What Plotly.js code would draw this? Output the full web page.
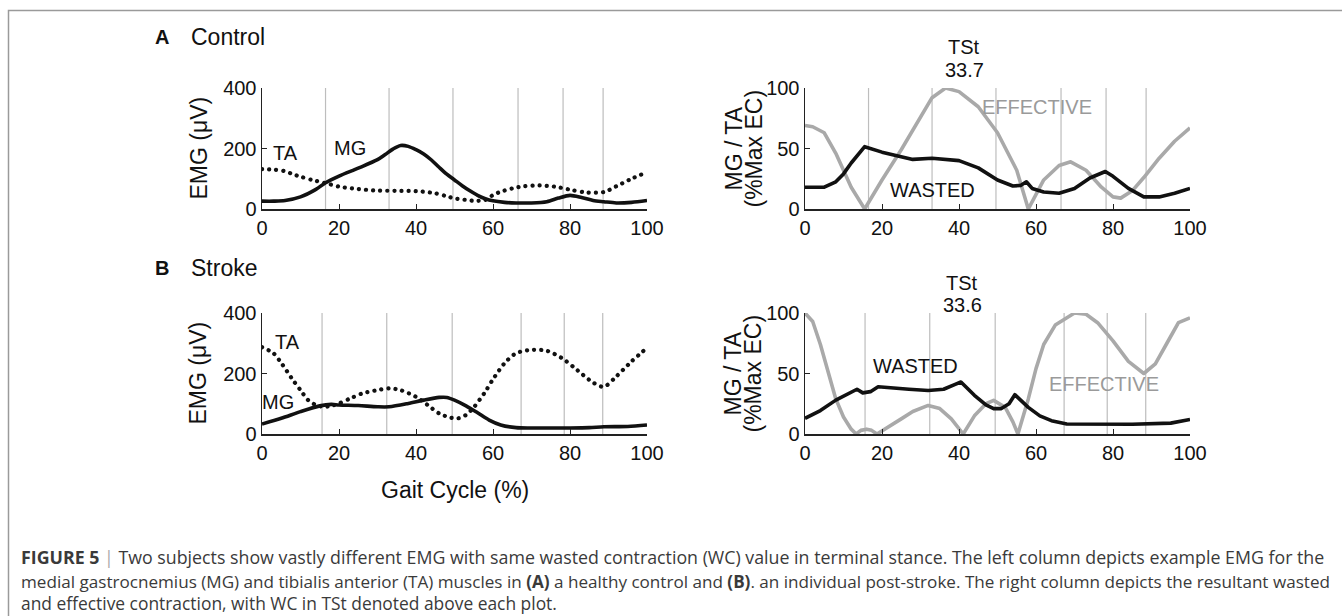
<!DOCTYPE html>
<html>
<head>
<meta charset="utf-8">
<script src="https://cdn.plot.ly/plotly-3.0.1.min.js"></script>
<style>html,body{margin:0;padding:0;background:#fff;} #chart{width:1342px;height:616px;}</style>
</head>
<body>
<div id="chart"></div>
<script>
// ---------- DATA ----------
// Gait phase boundaries (% gait cycle)
const phasesControl = [16.5, 33.0, 49.6, 66.5, 78.2, 88.6];
const phasesStroke  = [15.6, 32.4, 49.4, 67.3, 78.5, 88.5];

// Control: EMG (uV)
const ctrlMgX = [0,3,6,10,14,16.4,20,25,30,32,34,36,38,40,42,44,46,48,50,52,54,56,58,60,63,66,70,74,77,80,83,86,88.8,92,96,100];
const ctrlMg  = [26,26,28,40,65,86,109,135,163,180,198,210,207,196,182,162,138,115,96,77,60,45,34,27,22,20,20,24,36,45,38,28,24,20,22,28];
const ctrlTaX = [0,3,6,8,10,13,16.4,20,25,30,35,40,45,48,50,53,55,58,60,62,65,68,72,76,80,84,88.8,92,96,100];
const ctrlTa  = [132,130,125,115,107,96,86,74,66,61,60,59,52,42,35,30,27,30,46,57,68,75,78,74,64,55,56,75,100,122];

// Control: contraction (%Max EC)
const ctrlEffX = [0,2,5,8,10,12,15.5,20,25,30,33,36.5,40,45,50,55,58,62,66,69,73,77,80,82,85,88,92,96,100];
const ctrlEff  = [69,68,63,46,32,18,0,24,49,76,92,100,97,84.5,63,32,0,24,36,39,32,18,10,9,15,26,42,56,67];
const ctrlWasX = [0,5,8,10,12,15.5,20,25,28,33,38,40,45,50,54,56,57.5,59,62,66,70,74,78,80,84,88,92,96,100];
const ctrlWas  = [18,18,22.5,29,38,51.5,47,43,41,42,40.5,40,34,24,19,19.5,22.5,17,14,13,17,25.6,31,27,17,10,10,13,17];

// Stroke: EMG (uV)
const strMgX = [0,5,10,15,18,20,25,30,33,38,42,46,48,50,53,56,59,62,66,70,75,80,85,88.8,95,100];
const strMg  = [33,52,74,93,98,96,94,90,90,101,112,121,121,112,93,70,46,30,21,20,20,20,21,24,25,30];
const strTaX = [0,3,5,8,10,12,14,16,18,20,23,26,30,33,36,40,43,46,49,51,53,55,58,60,63,66,70,74,78,82,86,88.8,92,96,100];
const strTa  = [287,267,235,179,145,112,96,90,93,101,118,134,145,151,145,123,96,68,54,52,63,88,140,181,234,267,278,275,250,210,170,156,190,240,285];

// Stroke: contraction (%Max EC)
const strEffX = [0,2,4,6,8,10,12,13.3,14.5,16,17.3,18.7,22,25,28,32,35,38,41.1,44,47,49,52,54,55.3,58,60,62,65,68,70,73,76,80,84,88,91,94,97,100];
const strEff  = [100,93,74,51,29,14,4,0,3,4,3,0,7,12.5,18.6,23.6,21,12.5,0,15,25,27.8,22,10,0,29,54,74,90,96,100,99,92,77,60,50,58,75,92,96];
const strWasX = [0,4,8,12,13.5,15,17,19,22,27,32,36,39,40.5,44,47,49,51,53,54.5,56,58,61,64,68,75,85,95,100];
const strWas  = [13,19.4,28,35,37,34,35,39,38,37,36,37,41,43,32,24,21,21,25,32.5,28,22,15,11,8.3,8,8,9,12];

// WC in terminal stance
const wcControl = "33.7";
const wcStroke  = "33.6";

const xTicks = [0,20,40,60,80,100];
const emgTicks = [0,200,400];
const ecTicks = [0,50,100];

// ---------- LAYOUT HELPERS ----------
const W = 1342, H = 616;
const px = v => v / W;
const py = v => 1 - v / H;
const FONT = "Liberation Sans, Arial, Helvetica, sans-serif";
const CAPFONT = "Open Sans, Liberation Sans, Arial, sans-serif";
const BLACK = "#111";
const GRAY = "#a9a9a9";

const traces = [];
function line(x, y, xa, ya, color, dash, shape) {
  traces.push({x: x, y: y, xaxis: xa, yaxis: ya, type: 'scatter', mode: 'lines',
    line: {color: color, width: dash ? 4.2 : 3.6, dash: dash || 'solid', shape: shape || 'linear', smoothing: 0.8},
    hoverinfo: 'skip', showlegend: false});
}
line(ctrlTaX, ctrlTa, 'x', 'y', BLACK, '0.1px,7px', 'spline');
line(ctrlMgX, ctrlMg, 'x', 'y', BLACK, null, 'spline');
line(ctrlEffX, ctrlEff, 'x2', 'y2', GRAY);
line(ctrlWasX, ctrlWas, 'x2', 'y2', BLACK);
line(strTaX, strTa, 'x3', 'y3', BLACK, '0.1px,7px', 'spline');
line(strMgX, strMg, 'x3', 'y3', BLACK, null, 'spline');
line(strEffX, strEff, 'x4', 'y4', GRAY);
line(strWasX, strWas, 'x4', 'y4', BLACK);

function xAxis(left, right, anchor) {
  return {domain: [px(left), px(right)], anchor: anchor, range: [0, 100], showgrid: false, zeroline: false,
    showline: true, linecolor: '#222', linewidth: 1.5, ticks: 'inside', ticklen: 5, tickcolor: '#222',
    tickvals: xTicks, ticktext: xTicks.map(String), tickfont: {family: FONT, size: 20, color: BLACK}, fixedrange: true};
}
function yAxis(top, bottom, anchor, maxv, tv) {
  return {domain: [py(bottom), py(top)], anchor: anchor, range: [0, maxv], showgrid: false, zeroline: false,
    showline: true, linecolor: '#222', linewidth: 1.5, ticks: 'inside', ticklen: 5, tickcolor: '#222',
    tickvals: tv, ticktext: tv.map(String), tickfont: {family: FONT, size: 20, color: BLACK}, fixedrange: true};
}

const shapes = [];
function phaseLines(phases, xa, ya, maxv) {
  phases.forEach(p => shapes.push({type: 'line', xref: xa, yref: ya, x0: p, x1: p, y0: 0, y1: maxv,
    line: {color: '#bdbdbd', width: 1.2}, layer: 'below'}));
}
phaseLines(phasesControl, 'x', 'y', 400);
phaseLines(phasesControl, 'x2', 'y2', 100);
phaseLines(phasesStroke, 'x3', 'y3', 400);
phaseLines(phasesStroke, 'x4', 'y4', 100);
// figure frame (top + left)
shapes.push({type: 'path', xref: 'paper', yref: 'paper',
  path: `M ${px(1342)} ${py(10.5)} L ${px(8.5)} ${py(10.5)} L ${px(8.5)} ${py(616)}`,
  line: {color: '#9a9a9a', width: 1.5}});

const ann = [];
function txt(text, x, y, xref, yref, size, opts) {
  ann.push(Object.assign({text: text, x: x, y: y, xref: xref, yref: yref, showarrow: false,
    xanchor: 'center', yanchor: 'middle', font: {family: FONT, size: size, color: BLACK}}, opts || {}));
}
// panel titles
txt('<b>A</b>', px(162), py(37), 'paper', 'paper', 20);
txt('Control', px(189), py(37), 'paper', 'paper', 23, {xanchor: 'left'});
txt('<b>B</b>', px(162), py(268), 'paper', 'paper', 20);
txt('Stroke', px(189), py(268), 'paper', 'paper', 23, {xanchor: 'left'});
// axis titles
txt('EMG (μV)', px(198), py(148.5), 'paper', 'paper', 23, {textangle: -90});
txt('EMG (μV)', px(198), py(373.5), 'paper', 'paper', 23, {textangle: -90});
txt('MG / TA', px(733), py(148.5), 'paper', 'paper', 23, {textangle: -90});
txt('(%Max EC)', px(753), py(148.5), 'paper', 'paper', 23, {textangle: -90});
txt('MG / TA', px(733), py(373.5), 'paper', 'paper', 23, {textangle: -90});
txt('(%Max EC)', px(753), py(373.5), 'paper', 'paper', 23, {textangle: -90});
txt('Gait Cycle (%)', px(455), py(490), 'paper', 'paper', 23);
// curve labels
txt('TA', 6, 185, 'x', 'y', 20);
txt('MG', 22.9, 202, 'x', 'y', 20);
txt('WASTED', 33.2, 15.7, 'x2', 'y2', 20);
txt('EFFECTIVE', 60.3, 84.3, 'x2', 'y2', 20, {font: {family: FONT, size: 20, color: '#9a9a9a'}});
txt('TSt', (phasesControl[1] + phasesControl[2]) / 2, py(47), 'x2', 'paper', 20);
txt(wcControl, (phasesControl[1] + phasesControl[2]) / 2, py(70), 'x2', 'paper', 20);
txt('TA', 6.5, 304, 'x3', 'y3', 20);
txt('MG', 4.2, 106, 'x3', 'y3', 20);
txt('WASTED', 28.6, 56, 'x4', 'y4', 20);
txt('EFFECTIVE', 77.7, 41.7, 'x4', 'y4', 20, {font: {family: FONT, size: 20, color: '#9a9a9a'}});
txt('TSt', (phasesStroke[1] + phasesStroke[2]) / 2, py(283), 'x4', 'paper', 20);
txt(wcStroke, (phasesStroke[1] + phasesStroke[2]) / 2, py(305), 'x4', 'paper', 20);
// caption
const cap = s => ({family: CAPFONT, size: s, color: '#3a3a3a'});
txt('<b>FIGURE 5</b> <span style="color:#aaa">|</span> Two subjects show vastly different EMG with same wasted contraction (WC) value in terminal stance. The left column depicts example EMG for the',
  px(19), py(557), 'paper', 'paper', 17.8, {xanchor: 'left', font: cap(17.8)});
txt('medial gastrocnemius (MG) and tibialis anterior (TA) muscles in <b>(A)</b> a healthy control and <b>(B)</b>. an individual post-stroke. The right column depicts the resultant wasted',
  px(19), py(581), 'paper', 'paper', 17.1, {xanchor: 'left', font: cap(17.1)});
txt('and effective contraction, with WC in TSt denoted above each plot.',
  px(19), py(603), 'paper', 'paper', 17.4, {xanchor: 'left', font: cap(17.4)});

const layout = {
  width: W, height: H, margin: {l: 0, r: 0, t: 0, b: 0},
  paper_bgcolor: '#fff', plot_bgcolor: 'rgba(0,0,0,0)', showlegend: false,
  xaxis: xAxis(262, 647, 'y'), yaxis: yAxis(88, 209, 'x', 400, emgTicks),
  xaxis2: xAxis(805, 1190, 'y2'), yaxis2: yAxis(88, 209, 'x2', 100, ecTicks),
  xaxis3: xAxis(262, 647, 'y3'), yaxis3: yAxis(313, 434, 'x3', 400, emgTicks),
  xaxis4: xAxis(805, 1190, 'y4'), yaxis4: yAxis(313, 434, 'x4', 100, ecTicks),
  shapes: shapes, annotations: ann
};
Plotly.newPlot('chart', traces, layout, {staticPlot: true, displayModeBar: false}).then(() => {
  document.querySelectorAll('.scatterlayer path.js-line').forEach(p => {
    p.style.strokeLinejoin = 'round';
    if (p.style.strokeDasharray && p.style.strokeDasharray !== 'none') p.style.strokeLinecap = 'round';
  });
});
</script>
</body>
</html>
